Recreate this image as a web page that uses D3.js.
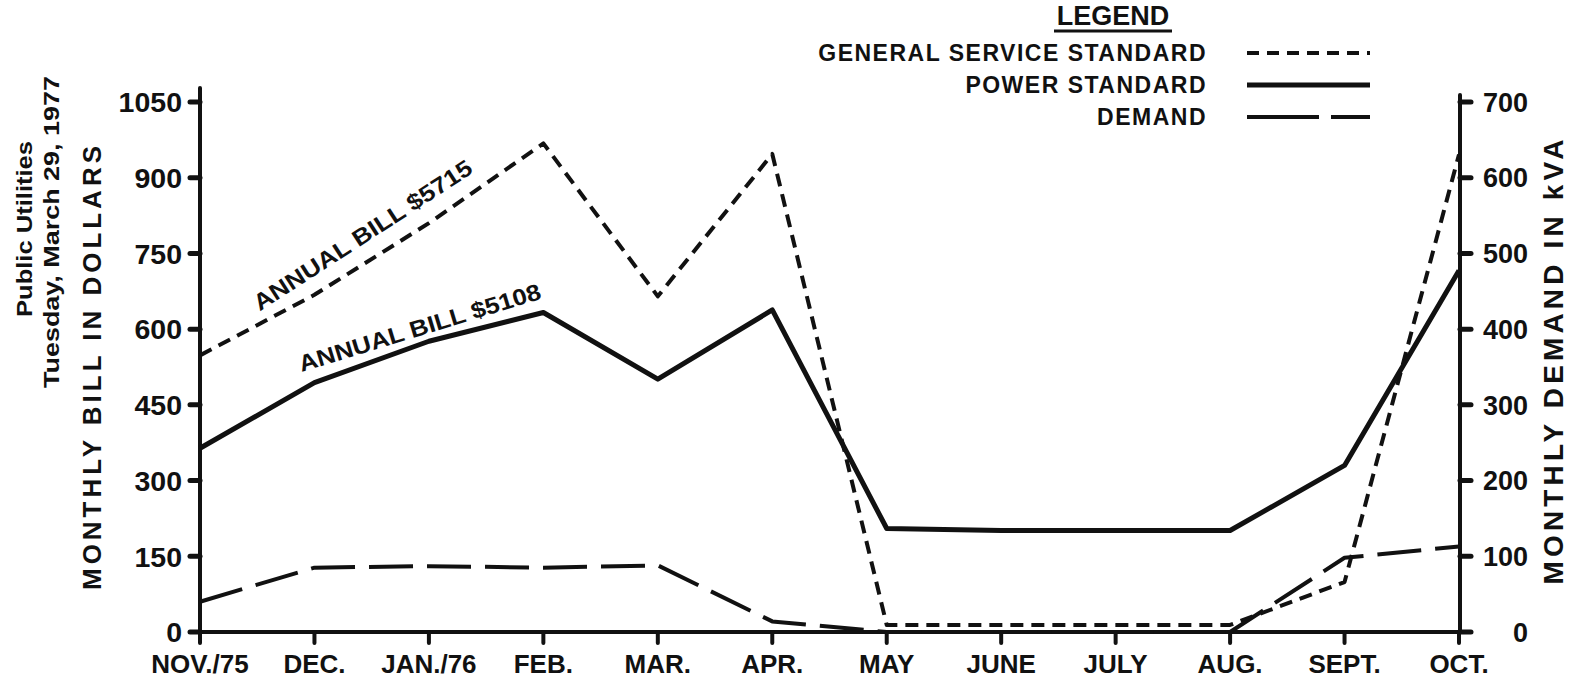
<!DOCTYPE html>
<html>
<head>
<meta charset="utf-8">
<script src="https://cdn.jsdelivr.net/npm/d3@7"></script>
<style>
  html, body { margin: 0; padding: 0; background: #fff; }
  svg { display: block; font-family: "Liberation Sans", Arial, sans-serif; font-weight: bold; }
  text { fill: #111; }
</style>
</head>
<body>
<div id="chart"></div>
<script>
// months along the bottom
const months = ['NOV./75', 'DEC.', 'JAN./76', 'FEB.', 'MAR.', 'APR.', 'MAY', 'JUNE', 'JULY', 'AUG.', 'SEPT.', 'OCT.'];

// monthly bill in dollars
const generalService = [548, 668, 810, 968, 665, 947, 14, 14, 14, 14, 99, 946];
const powerStandard = [364, 494, 576, 633, 501, 638, 205, 201, 201, 201, 330, 716];

// monthly demand in kVA (right axis)
const demand = [40, 85, 87, 85, 88, 14, 0, 0, 0, 0, 98, 113];

const billTicks = [0, 150, 300, 450, 600, 750, 900, 1050];
const kvaTicks = [0, 100, 200, 300, 400, 500, 600, 700];

const legendItems = [
    { label: 'GENERAL SERVICE STANDARD', dash: '12,8', width: 4 },
    { label: 'POWER STANDARD', dash: null, width: 5 },
    { label: 'DEMAND', dash: '72,12', width: 4 }
];

const width = 1571, height = 686;

const svg = d3.select('#chart')
    .append('svg')
    .attr('width', width)
    .attr('height', height);

// scales
const x = d3.scalePoint().domain(months).range([200, 1459]);
const yBill = d3.scaleLinear().domain([0, 1050]).range([632, 102]);
const yKva = d3.scaleLinear().domain([0, 700]).range([632, 102]);

// axes lines
const axisG = svg.append('g')
    .attr('stroke', '#111')
    .attr('stroke-linecap', 'round');

axisG.append('line')
    .attr('x1', 200).attr('x2', 200)
    .attr('y1', 88).attr('y2', yBill(0))
    .attr('stroke-width', 4);

axisG.append('line')
    .attr('x1', 1460).attr('x2', 1460)
    .attr('y1', 95).attr('y2', yKva(0))
    .attr('stroke-width', 4);

axisG.append('line')
    .attr('x1', 198).attr('x2', 1470)
    .attr('y1', yBill(0)).attr('y2', yBill(0))
    .attr('stroke-width', 4);

// left ticks + labels
const left = svg.append('g');
left.selectAll('line')
    .data(billTicks)
    .enter()
    .append('line')
    .attr('x1', 190).attr('x2', 200)
    .attr('y1', d => yBill(d)).attr('y2', d => yBill(d))
    .attr('stroke', '#111').attr('stroke-width', 5).attr('stroke-linecap', 'round');
left.selectAll('text')
    .data(billTicks)
    .enter()
    .append('text')
    .attr('x', 182)
    .attr('y', d => yBill(d))
    .attr('dy', '0.36em')
    .attr('text-anchor', 'end')
    .style('font-size', '28.5px')
    .text(d => d);

// right ticks + labels
const right = svg.append('g');
right.selectAll('line')
    .data(kvaTicks)
    .enter()
    .append('line')
    .attr('x1', 1460).attr('x2', 1471)
    .attr('y1', d => yKva(d)).attr('y2', d => yKva(d))
    .attr('stroke', '#111').attr('stroke-width', 5).attr('stroke-linecap', 'round');
right.selectAll('text')
    .data(kvaTicks)
    .enter()
    .append('text')
    .attr('x', 1528)
    .attr('y', d => yKva(d))
    .attr('dy', '0.36em')
    .attr('text-anchor', 'end')
    .style('font-size', '27px')
    .text(d => d);

// bottom ticks + labels
const bottom = svg.append('g');
bottom.selectAll('line')
    .data(months)
    .enter()
    .append('line')
    .attr('x1', d => x(d)).attr('x2', d => x(d))
    .attr('y1', yBill(0)).attr('y2', yBill(0) + 11)
    .attr('stroke', '#111').attr('stroke-width', 4).attr('stroke-linecap', 'round');
bottom.selectAll('text')
    .data(months)
    .enter()
    .append('text')
    .attr('x', d => x(d))
    .attr('y', 673)
    .attr('text-anchor', 'middle')
    .style('font-size', '26px')
    .text(d => d);

// axis titles
svg.append('text')
    .attr('transform', 'translate(101,368) rotate(-90)')
    .attr('text-anchor', 'middle')
    .attr('textLength', 444)
    .attr('lengthAdjust', 'spacing')
    .style('font-size', '26px')
    .text('MONTHLY BILL IN DOLLARS');

svg.append('text')
    .attr('transform', 'translate(1563,362) rotate(-90)')
    .attr('text-anchor', 'middle')
    .attr('textLength', 445)
    .attr('lengthAdjust', 'spacing')
    .style('font-size', '28px')
    .text('MONTHLY DEMAND IN kVA');

svg.append('text')
    .attr('transform', 'translate(32,229) rotate(-90)')
    .attr('text-anchor', 'middle')
    .attr('textLength', 176)
    .attr('lengthAdjust', 'spacingAndGlyphs')
    .style('font-size', '22px')
    .text('Public Utilities');

svg.append('text')
    .attr('transform', 'translate(59,232) rotate(-90)')
    .attr('text-anchor', 'middle')
    .attr('textLength', 312)
    .attr('lengthAdjust', 'spacingAndGlyphs')
    .style('font-size', '22px')
    .text('Tuesday, March 29, 1977');

// series lines
const billLine = d3.line()
    .x((d, i) => x(months[i]))
    .y(d => yBill(d));
const kvaLine = d3.line()
    .x((d, i) => x(months[i]))
    .y(d => yKva(d));

const lines = svg.append('g')
    .attr('fill', 'none')
    .attr('stroke', '#111')
    .attr('stroke-linejoin', 'round');

lines.append('path')
    .datum(demand)
    .attr('d', kvaLine)
    .attr('stroke-width', 4)
    .attr('stroke-dasharray', '44,14');

lines.append('path')
    .datum(generalService)
    .attr('d', billLine)
    .attr('stroke-width', 4)
    .attr('stroke-dasharray', '13,8');

lines.append('path')
    .datum(powerStandard)
    .attr('d', billLine)
    .attr('stroke-width', 5);

// annual bill annotations, laid along their lines
function annotate(values, i0, t, offset, label, len, ang) {
    const x0 = x(months[i0]), x1 = x(months[i0 + 1]);
    const y0 = yBill(values[i0]), y1 = yBill(values[i0 + 1]);
    const px = x0 + (x1 - x0) * t, py = y0 + (y1 - y0) * t;
    if (ang === undefined) ang = Math.atan2(y1 - y0, x1 - x0) * 180 / Math.PI;
    svg.append('text')
        .attr('transform', `translate(${px},${py}) rotate(${ang}) translate(0,${-offset})`)
        .attr('text-anchor', 'middle')
        .attr('textLength', len)
        .attr('lengthAdjust', 'spacingAndGlyphs')
        .style('font-size', '23px')
        .text(label);
}
annotate(generalService, 1, 0.54, 17, 'ANNUAL BILL $5715', 256, -33);
annotate(powerStandard, 1, 0.96, 8, 'ANNUAL BILL $5108', 252, -17);

// legend
const legend = svg.append('g');
legend.append('text')
    .attr('x', 1113).attr('y', 25)
    .attr('text-anchor', 'middle')
    .style('font-size', '27px')
    .text('LEGEND');
legend.append('line')
    .attr('x1', 1054).attr('x2', 1172)
    .attr('y1', 31).attr('y2', 31)
    .attr('stroke', '#111').attr('stroke-width', 3);

const rows = legend.selectAll('g.row')
    .data(legendItems)
    .enter()
    .append('g')
    .attr('class', 'row')
    .attr('transform', (d, i) => `translate(0,${53 + i * 32})`);
rows.append('text')
    .attr('x', 1207).attr('y', 8)
    .attr('text-anchor', 'end')
    .style('font-size', '23px')
    .style('letter-spacing', '1.5px')
    .text(d => d.label);
rows.append('line')
    .attr('x1', 1247).attr('x2', 1370)
    .attr('y1', 0).attr('y2', 0)
    .attr('stroke', '#111')
    .attr('stroke-width', d => d.width)
    .attr('stroke-dasharray', d => d.dash);
</script>
</body>
</html>
